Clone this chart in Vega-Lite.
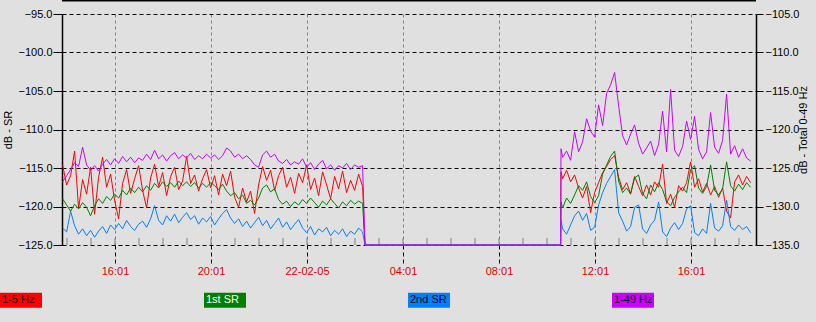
{
"$schema": "https://vega.github.io/schema/vega-lite/v6.json",
"width": 694, "height": 231,
"autosize": {"type": "none"},
"padding": {"left": 62, "top": 14, "right": 60, "bottom": 77},
"background": "#e0e0e0",
"config": {
  "view": {"stroke": null},
  "font": "Liberation Sans",
  "axis": {"labelFont": "Liberation Sans", "titleFont": "Liberation Sans", "labelFontSize": 11, "titleFontSize": 11, "titleFontWeight": "normal", "labelColor": "#000000", "titleColor": "#000000"}
},
"data": {"values": [
{"t":"2005-02-21T13:50","r":-114.6,"g":-119.0,"b":-122.8,"m":-126.8},
{"t":"2005-02-21T14:00","r":-117.2,"g":-119.8,"b":-123.3,"m":-126.0},
{"t":"2005-02-21T14:10","r":-116.0,"g":-120.6,"b":-120.6,"m":-125.2},
{"t":"2005-02-21T14:20","r":-112.8,"g":-119.7,"b":-122.5,"m":-124.3},
{"t":"2005-02-21T14:30","r":-120.3,"g":-120.3,"b":-123.6,"m":-124.8},
{"t":"2005-02-21T14:40","r":-116.5,"g":-119.5,"b":-122.9,"m":-122.3},
{"t":"2005-02-21T14:50","r":-118.4,"g":-120.1,"b":-123.8,"m":-124.6},
{"t":"2005-02-21T15:00","r":-114.9,"g":-121.2,"b":-123.1,"m":-125.3},
{"t":"2005-02-21T15:10","r":-121.0,"g":-119.9,"b":-124.0,"m":-124.7},
{"t":"2005-02-21T15:20","r":-116.2,"g":-119.0,"b":-123.2,"m":-125.4},
{"t":"2005-02-21T15:30","r":-113.6,"g":-119.6,"b":-122.6,"m":-124.5},
{"t":"2005-02-21T15:40","r":-117.5,"g":-118.7,"b":-123.5,"m":-123.9},
{"t":"2005-02-21T15:50","r":-115.8,"g":-119.2,"b":-122.4,"m":-124.6},
{"t":"2005-02-21T16:00","r":-119.2,"g":-118.4,"b":-123.0,"m":-123.8},
{"t":"2005-02-21T16:10","r":-121.6,"g":-118.9,"b":-122.2,"m":-124.4},
{"t":"2005-02-21T16:20","r":-117.0,"g":-117.9,"b":-122.9,"m":-123.5},
{"t":"2005-02-21T16:30","r":-115.2,"g":-118.5,"b":-121.8,"m":-124.2},
{"t":"2005-02-21T16:40","r":-118.3,"g":-117.6,"b":-122.6,"m":-123.6},
{"t":"2005-02-21T16:50","r":-116.4,"g":-118.2,"b":-123.1,"m":-124.3},
{"t":"2005-02-21T17:00","r":-114.7,"g":-117.5,"b":-122.3,"m":-123.7},
{"t":"2005-02-21T17:10","r":-117.9,"g":-118.1,"b":-121.9,"m":-124.0},
{"t":"2005-02-21T17:20","r":-120.2,"g":-117.3,"b":-122.7,"m":-123.2},
{"t":"2005-02-21T17:30","r":-116.3,"g":-117.9,"b":-121.6,"m":-123.9},
{"t":"2005-02-21T17:40","r":-114.5,"g":-117.0,"b":-119.9,"m":-122.7},
{"t":"2005-02-21T17:50","r":-117.4,"g":-117.6,"b":-121.8,"m":-123.8},
{"t":"2005-02-21T18:00","r":-115.6,"g":-116.8,"b":-122.4,"m":-123.3},
{"t":"2005-02-21T18:10","r":-118.6,"g":-117.4,"b":-121.2,"m":-124.1},
{"t":"2005-02-21T18:20","r":-116.1,"g":-116.9,"b":-121.9,"m":-123.4},
{"t":"2005-02-21T18:30","r":-114.9,"g":-117.5,"b":-121.0,"m":-123.0},
{"t":"2005-02-21T18:40","r":-117.8,"g":-116.7,"b":-122.1,"m":-123.8},
{"t":"2005-02-21T18:50","r":-116.7,"g":-117.3,"b":-121.4,"m":-123.3},
{"t":"2005-02-21T19:00","r":-113.5,"g":-116.8,"b":-120.8,"m":-123.7},
{"t":"2005-02-21T19:10","r":-117.0,"g":-117.4,"b":-121.7,"m":-123.1},
{"t":"2005-02-21T19:20","r":-115.9,"g":-116.9,"b":-121.2,"m":-123.9},
{"t":"2005-02-21T19:30","r":-118.0,"g":-117.6,"b":-122.3,"m":-123.4},
{"t":"2005-02-21T19:40","r":-116.4,"g":-117.0,"b":-121.5,"m":-123.8},
{"t":"2005-02-21T19:50","r":-115.2,"g":-117.5,"b":-122.0,"m":-123.2},
{"t":"2005-02-21T20:00","r":-117.6,"g":-116.9,"b":-121.3,"m":-123.7},
{"t":"2005-02-21T20:10","r":-116.0,"g":-117.3,"b":-122.4,"m":-123.3},
{"t":"2005-02-21T20:20","r":-118.5,"g":-117.8,"b":-121.6,"m":-123.9},
{"t":"2005-02-21T20:30","r":-115.8,"g":-117.1,"b":-120.9,"m":-123.4},
{"t":"2005-02-21T20:40","r":-117.3,"g":-118.0,"b":-120.4,"m":-122.4},
{"t":"2005-02-21T20:50","r":-115.4,"g":-118.6,"b":-121.5,"m":-122.8},
{"t":"2005-02-21T21:00","r":-118.8,"g":-118.2,"b":-122.2,"m":-123.6},
{"t":"2005-02-21T21:10","r":-120.1,"g":-119.0,"b":-121.6,"m":-123.2},
{"t":"2005-02-21T21:20","r":-117.6,"g":-118.5,"b":-122.6,"m":-123.8},
{"t":"2005-02-21T21:30","r":-119.4,"g":-119.6,"b":-121.9,"m":-123.4},
{"t":"2005-02-21T21:40","r":-118.0,"g":-119.2,"b":-122.8,"m":-123.9},
{"t":"2005-02-21T21:50","r":-120.9,"g":-119.8,"b":-122.1,"m":-124.6},
{"t":"2005-02-21T22:00","r":-117.2,"g":-118.9,"b":-121.4,"m":-124.9},
{"t":"2005-02-21T22:10","r":-114.8,"g":-117.6,"b":-122.5,"m":-123.3},
{"t":"2005-02-21T22:20","r":-116.6,"g":-117.2,"b":-121.8,"m":-122.8},
{"t":"2005-02-21T22:30","r":-115.3,"g":-118.1,"b":-122.9,"m":-123.6},
{"t":"2005-02-21T22:40","r":-117.9,"g":-117.7,"b":-122.2,"m":-123.2},
{"t":"2005-02-21T22:50","r":-116.0,"g":-119.1,"b":-121.5,"m":-124.1},
{"t":"2005-02-21T23:00","r":-114.9,"g":-119.7,"b":-122.7,"m":-124.4},
{"t":"2005-02-21T23:10","r":-117.5,"g":-119.3,"b":-122.0,"m":-123.9},
{"t":"2005-02-21T23:20","r":-116.2,"g":-120.0,"b":-123.0,"m":-124.6},
{"t":"2005-02-21T23:30","r":-118.3,"g":-119.4,"b":-122.3,"m":-124.2},
{"t":"2005-02-21T23:40","r":-115.7,"g":-119.8,"b":-121.7,"m":-124.5},
{"t":"2005-02-21T23:50","r":-116.9,"g":-119.1,"b":-122.8,"m":-123.8},
{"t":"2005-02-22T00:00","r":-114.6,"g":-119.6,"b":-123.4,"m":-124.9},
{"t":"2005-02-22T00:10","r":-117.8,"g":-118.9,"b":-122.6,"m":-124.3},
{"t":"2005-02-22T00:20","r":-116.3,"g":-119.5,"b":-123.7,"m":-125.2},
{"t":"2005-02-22T00:30","r":-118.6,"g":-120.1,"b":-122.9,"m":-124.5},
{"t":"2005-02-22T00:40","r":-115.5,"g":-119.3,"b":-123.3,"m":-124.0},
{"t":"2005-02-22T00:50","r":-117.2,"g":-119.8,"b":-122.7,"m":-125.1},
{"t":"2005-02-22T01:00","r":-119.0,"g":-119.0,"b":-123.8,"m":-124.6},
{"t":"2005-02-22T01:10","r":-116.1,"g":-119.6,"b":-123.1,"m":-125.3},
{"t":"2005-02-22T01:20","r":-117.7,"g":-120.2,"b":-123.6,"m":-124.7},
{"t":"2005-02-22T01:30","r":-115.4,"g":-119.4,"b":-122.9,"m":-125.0},
{"t":"2005-02-22T01:40","r":-118.2,"g":-119.9,"b":-123.9,"m":-124.4},
{"t":"2005-02-22T01:50","r":-116.6,"g":-119.2,"b":-123.2,"m":-125.2},
{"t":"2005-02-22T02:00","r":-117.9,"g":-119.7,"b":-123.6,"m":-124.6},
{"t":"2005-02-22T02:10","r":-115.8,"g":-119.3,"b":-122.8,"m":-124.9},
{"t":"2005-02-22T02:20","r":-117.4,"g":-119.6,"b":-123.3,"m":-124.7},
{"t":"2005-02-22T02:26","r":-125,"g":-125,"b":-125,"m":-135},
{"t":"2005-02-22T10:35","r":-125,"g":-125,"b":-125,"m":-135},
{"t":"2005-02-22T10:36","r":-115.5,"g":-119.4,"b":-121.8,"m":-122.5},
{"t":"2005-02-22T10:40","r":-116.4,"g":-120.2,"b":-122.9,"m":-123.6},
{"t":"2005-02-22T10:50","r":-115.3,"g":-118.9,"b":-123.6,"m":-122.8},
{"t":"2005-02-22T11:00","r":-116.8,"g":-119.6,"b":-122.4,"m":-124.0},
{"t":"2005-02-22T11:10","r":-115.9,"g":-118.5,"b":-121.2,"m":-120.3},
{"t":"2005-02-22T11:20","r":-117.6,"g":-117.3,"b":-120.6,"m":-122.9},
{"t":"2005-02-22T11:30","r":-118.9,"g":-117.9,"b":-121.8,"m":-121.6},
{"t":"2005-02-22T11:40","r":-117.4,"g":-116.8,"b":-120.9,"m":-118.6},
{"t":"2005-02-22T11:50","r":-120.8,"g":-118.7,"b":-123.1,"m":-120.2},
{"t":"2005-02-22T12:00","r":-118.2,"g":-119.5,"b":-122.7,"m":-121.0},
{"t":"2005-02-22T12:10","r":-116.9,"g":-118.6,"b":-119.8,"m":-116.8},
{"t":"2005-02-22T12:20","r":-115.6,"g":-115.8,"b":-118.2,"m":-119.5},
{"t":"2005-02-22T12:30","r":-114.8,"g":-114.6,"b":-117.0,"m":-115.3},
{"t":"2005-02-22T12:40","r":-113.9,"g":-113.5,"b":-116.1,"m":-114.2},
{"t":"2005-02-22T12:50","r":-113.4,"g":-112.8,"b":-115.2,"m":-112.6},
{"t":"2005-02-22T13:00","r":-116.2,"g":-116.7,"b":-120.8,"m":-116.9},
{"t":"2005-02-22T13:10","r":-117.8,"g":-118.2,"b":-121.9,"m":-120.8},
{"t":"2005-02-22T13:20","r":-116.9,"g":-117.6,"b":-123.2,"m":-122.0},
{"t":"2005-02-22T13:30","r":-118.3,"g":-118.4,"b":-122.6,"m":-120.6},
{"t":"2005-02-22T13:40","r":-116.1,"g":-116.3,"b":-120.1,"m":-119.4},
{"t":"2005-02-22T13:50","r":-117.4,"g":-115.9,"b":-119.8,"m":-121.8},
{"t":"2005-02-22T14:00","r":-118.6,"g":-118.3,"b":-122.9,"m":-123.2},
{"t":"2005-02-22T14:10","r":-117.2,"g":-119.0,"b":-123.5,"m":-122.4},
{"t":"2005-02-22T14:20","r":-118.5,"g":-117.2,"b":-122.4,"m":-121.5},
{"t":"2005-02-22T14:30","r":-116.8,"g":-118.1,"b":-121.8,"m":-123.4},
{"t":"2005-02-22T14:40","r":-117.5,"g":-116.9,"b":-119.4,"m":-121.9},
{"t":"2005-02-22T14:50","r":-114.5,"g":-117.8,"b":-123.3,"m":-117.6},
{"t":"2005-02-22T15:00","r":-119.6,"g":-119.4,"b":-123.9,"m":-122.9},
{"t":"2005-02-22T15:10","r":-118.4,"g":-119.9,"b":-122.8,"m":-114.8},
{"t":"2005-02-22T15:20","r":-120.1,"g":-118.8,"b":-122.1,"m":-122.7},
{"t":"2005-02-22T15:30","r":-117.3,"g":-118.1,"b":-123.0,"m":-123.5},
{"t":"2005-02-22T15:40","r":-118.0,"g":-117.5,"b":-122.2,"m":-122.2},
{"t":"2005-02-22T15:50","r":-116.9,"g":-118.2,"b":-120.3,"m":-118.9},
{"t":"2005-02-22T16:00","r":-114.2,"g":-115.2,"b":-119.9,"m":-121.3},
{"t":"2005-02-22T16:10","r":-117.5,"g":-114.7,"b":-123.4,"m":-118.3},
{"t":"2005-02-22T16:20","r":-116.4,"g":-117.6,"b":-123.8,"m":-122.6},
{"t":"2005-02-22T16:30","r":-118.1,"g":-118.3,"b":-122.9,"m":-123.8},
{"t":"2005-02-22T16:40","r":-117.0,"g":-117.4,"b":-123.5,"m":-122.9},
{"t":"2005-02-22T16:50","r":-118.5,"g":-114.6,"b":-119.6,"m":-117.8},
{"t":"2005-02-22T17:00","r":-117.4,"g":-117.9,"b":-122.8,"m":-122.3},
{"t":"2005-02-22T17:10","r":-118.8,"g":-118.5,"b":-123.2,"m":-123.1},
{"t":"2005-02-22T17:20","r":-117.6,"g":-117.7,"b":-122.5,"m":-121.4},
{"t":"2005-02-22T17:30","r":-120.6,"g":-114.2,"b":-119.2,"m":-115.4},
{"t":"2005-02-22T17:40","r":-121.5,"g":-117.3,"b":-122.6,"m":-123.2},
{"t":"2005-02-22T17:50","r":-116.8,"g":-118.0,"b":-123.1,"m":-122.1},
{"t":"2005-02-22T18:00","r":-115.9,"g":-117.1,"b":-122.4,"m":-123.6},
{"t":"2005-02-22T18:10","r":-117.2,"g":-117.8,"b":-123.0,"m":-122.5},
{"t":"2005-02-22T18:20","r":-116.1,"g":-116.9,"b":-122.6,"m":-123.7},
{"t":"2005-02-22T18:30","r":-116.9,"g":-117.5,"b":-123.4,"m":-124.1}
]},
"layer": [
  {"data": {"values": [
     {"h":"2005-02-21T14:01"},{"h":"2005-02-21T15:01"},{"h":"2005-02-21T16:01"},{"h":"2005-02-21T17:01"},{"h":"2005-02-21T18:01"},
     {"h":"2005-02-21T19:01"},{"h":"2005-02-21T20:01"},{"h":"2005-02-21T21:01"},{"h":"2005-02-21T22:01"},{"h":"2005-02-21T23:01"},
     {"h":"2005-02-22T00:01"},{"h":"2005-02-22T01:01"},{"h":"2005-02-22T02:01"},{"h":"2005-02-22T03:01"},{"h":"2005-02-22T04:01"},
     {"h":"2005-02-22T05:01"},{"h":"2005-02-22T06:01"},{"h":"2005-02-22T07:01"},{"h":"2005-02-22T08:01"},{"h":"2005-02-22T09:01"},
     {"h":"2005-02-22T10:01"},{"h":"2005-02-22T11:01"},{"h":"2005-02-22T12:01"},{"h":"2005-02-22T13:01"},{"h":"2005-02-22T14:01"},
     {"h":"2005-02-22T15:01"},{"h":"2005-02-22T16:01"},{"h":"2005-02-22T17:01"},{"h":"2005-02-22T18:01"}]},
   "mark": {"type": "tick", "orient": "vertical", "color": "#808080", "size": 7, "thickness": 1, "opacity": 1},
   "encoding": {
     "x": {"field": "h", "type": "temporal"},
     "y": {"datum": -124.55, "type": "quantitative", "scale": {"domain": [-125, -95], "nice": false, "zero": false}, "axis": null}
   }},
  {"transform": [{"fold": ["r", "g", "b"], "as": ["series", "value"]}],
   "mark": {"type": "line", "strokeWidth": 1},
   "encoding": {
     "x": {"field": "t", "type": "temporal",
           "scale": {"domain": [{"year": 2005, "month": 2, "date": 21, "hours": 13, "minutes": 48, "seconds": 30}, {"year": 2005, "month": 2, "date": 22, "hours": 18, "minutes": 43, "seconds": 30}], "nice": false},
           "axis": {"orient": "bottom", "title": null, "domain": false, "grid": true, "gridColor": "#808080", "gridDash": [3, 3], "gridWidth": 1,
                    "values": [{"year": 2005, "month": 2, "date": 21, "hours": 16, "minutes": 1}, {"year": 2005, "month": 2, "date": 21, "hours": 20, "minutes": 1}, {"year": 2005, "month": 2, "date": 22, "hours": 0, "minutes": 1}, {"year": 2005, "month": 2, "date": 22, "hours": 4, "minutes": 1}, {"year": 2005, "month": 2, "date": 22, "hours": 8, "minutes": 1}, {"year": 2005, "month": 2, "date": 22, "hours": 12, "minutes": 1}, {"year": 2005, "month": 2, "date": 22, "hours": 16, "minutes": 1}],
                    "labelExpr": "hours(datum.value) == 0 ? timeFormat(datum.value, '%d-%m-%y') : timeFormat(datum.value, '%H:%M')",
                    "labelColor": "#e00000", "labelPadding": 2, "tickSize": 18, "tickColor": "#000000", "tickDash": [4, 3], "tickWidth": 1}},
     "y": {"field": "value", "type": "quantitative",
           "scale": {"domain": [-125, -95], "nice": false, "zero": false},
           "axis": {"orient": "left", "title": "dB - SR", "values": [-125, -120, -115, -110, -105, -100, -95], "format": ".1f",
                    "grid": true, "gridColor": "#000000", "gridDash": [4, 3], "gridWidth": 1,
                    "domainColor": "#000000", "domainWidth": 1.5, "tickColor": "#000000", "tickSize": 9, "labelPadding": 1, "titlePadding": 5}},
     "color": {"field": "series", "type": "nominal",
               "scale": {"domain": ["r", "g", "b", "m"], "range": ["#ff0000", "#008000", "#0080ff", "#cc00ff"]},
               "legend": {"orient": "none", "legendX": -62, "legendY": 265, "direction": "horizontal", "columns": 4, "columnPadding": 162, "rowPadding": 0, "padding": 0, "title": null,
                          "symbolType": "M-1,-0.357H1V0.357H-1Z", "symbolSize": 1764, "symbolStrokeWidth": 0, "symbolOpacity": 1, "labelOffset": -40, "labelFontSize": 11, "labelFont": "Liberation Sans",
                          "labelExpr": "datum.value == 'r' ? '1-5 Hz' : datum.value == 'g' ? '1st SR' : datum.value == 'b' ? '2nd SR' : '1-49 Hz'",
                          "encode": {"symbols": {"update": {"fill": {"scale": "color", "field": "value"}}},
                                     "labels": {"update": {"fill": {"signal": "datum.value == 'g' ? '#ffffff' : '#000000'"}}}}}}
   }},
  {"transform": [{"fold": ["m"], "as": ["series", "value"]}],
   "mark": {"type": "line", "strokeWidth": 1},
   "encoding": {
     "x": {"field": "t", "type": "temporal"},
     "y": {"field": "value", "type": "quantitative",
           "scale": {"domain": [-135, -105], "nice": false, "zero": false},
           "axis": {"orient": "right", "title": "dB - Total 0-49 Hz", "titleAngle": 270, "values": [-135, -130, -125, -120, -115, -110, -105], "format": ".1f",
                    "grid": false, "domainColor": "#000000", "domainWidth": 1.5, "tickColor": "#000000", "tickSize": 7, "labelPadding": 2, "titlePadding": 10}},
     "color": {"field": "series", "type": "nominal"}
   }},
  {"data": {"values": [{"top": -93.25}]},
   "mark": {"type": "rule", "color": "#000000", "strokeWidth": 2},
   "encoding": {"y": {"field": "top", "type": "quantitative", "scale": {"domain": [-125, -95], "nice": false, "zero": false}, "axis": null}}}
],
"resolve": {"scale": {"y": "independent"}}
}
